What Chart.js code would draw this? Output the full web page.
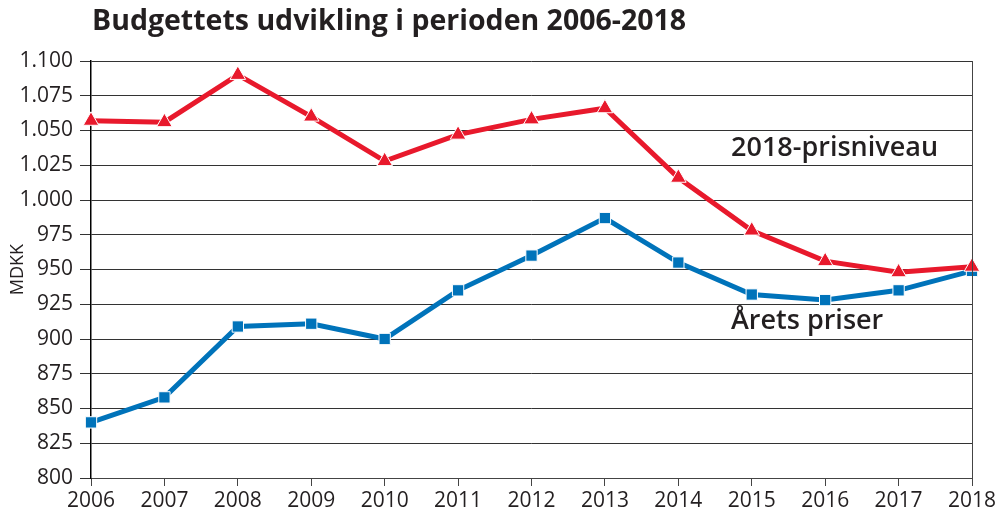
<!DOCTYPE html>
<html>
<head>
<meta charset="utf-8">
<script src="https://cdn.jsdelivr.net/npm/chart.js@4"></script>
<style>
  html, body { margin: 0; padding: 0; background: #fff; }
  #wrap { width: 1002px; height: 513px; }
</style>
</head>
<body>
<div id="wrap"><canvas id="chart"></canvas></div>
<script>
'use strict';

const years = ['2006','2007','2008','2009','2010','2011','2012','2013','2014','2015','2016','2017','2018'];
const prisniveau2018 = [1057, 1056, 1090, 1060, 1028, 1047, 1058, 1066, 1016, 978, 956, 948, 952];
const aretsPriser = [840, 858, 909, 911, 900, 935, 960, 987, 955, 932, 928, 935, 949];
const yTicks = { min: 800, max: 1100, step: 25 };

const titleText = 'Budgettets udvikling i perioden 2006-2018';
const red = '#e8192c';
const blue = '#0073ba';
const ink = '#231f20';
const fontFamily = '"Open Sans", sans-serif';

// Danish thousands separator: 1100 -> 1.100
function fmt(v) {
    if (v >= 1000) return Math.floor(v / 1000) + '.' + String(v % 1000).padStart(3, '0');
    return String(v);
}

const extras = {
    id: 'extras',
    afterDraw(chart) {
        const ctx = chart.ctx;
        const area = chart.chartArea;
        ctx.save();
        // right border
        ctx.strokeStyle = '#444';
        ctx.lineWidth = 1;
        ctx.beginPath();
        ctx.moveTo(Math.round(area.right) + 0.5, area.top);
        ctx.lineTo(Math.round(area.right) + 0.5, area.bottom);
        ctx.stroke();

        // title
        ctx.fillStyle = ink;
        ctx.font = 'bold 28.5px ' + fontFamily;
        ctx.textBaseline = 'middle';
        ctx.textAlign = 'left';
        ctx.fillText(titleText, 92, 22);

        // series labels
        ctx.font = '600 27px ' + fontFamily;
        ctx.fillText('2018-prisniveau', 731, 148);
        ctx.fillText('Årets priser', 731, 321);
        ctx.restore();
    }
};

new Chart(document.getElementById('chart'), {
    type: 'line',
    data: {
        labels: years,
        datasets: [
            {
                label: '2018-prisniveau',
                data: prisniveau2018,
                borderColor: red,
                backgroundColor: red,
                borderWidth: 5,
                pointStyle: 'triangle',
                pointRadius: 9,
                pointBorderColor: '#fff',
                pointBorderWidth: 1,
                pointBackgroundColor: red,
                tension: 0
            },
            {
                label: 'Årets priser',
                data: aretsPriser,
                borderColor: blue,
                backgroundColor: blue,
                borderWidth: 5,
                pointStyle: 'rect',
                pointRadius: 8,
                pointBorderColor: '#fff',
                pointBorderWidth: 1,
                pointBackgroundColor: blue,
                tension: 0
            }
        ]
    },
    options: {
        responsive: true,
        maintainAspectRatio: false,
        animation: false,
        layout: { padding: { top: 61, right: 30, left: 0, bottom: 0 } },
        plugins: {
            legend: { display: false },
            tooltip: { enabled: false },
            title: { display: false }
        },
        scales: {
            x: {
                offset: false,
                afterFit: (scale) => { scale.height = 35; },
                grid: {
                    drawOnChartArea: false,
                    drawTicks: true,
                    tickLength: 8,
                    color: '#444'
                },
                border: { display: true, color: '#444', width: 1 },
                ticks: {
                    color: ink,
                    font: { family: fontFamily, size: 21 },
                    padding: 2,
                    maxRotation: 0,
                    autoSkip: false
                }
            },
            y: {
                min: yTicks.min,
                max: yTicks.max,
                afterFit: (scale) => { scale.width = 91; },
                grid: {
                    color: '#333',
                    lineWidth: 1,
                    tickLength: 11
                },
                border: { display: true, color: '#000', width: 1.5 },
                ticks: {
                    stepSize: yTicks.step,
                    color: ink,
                    font: { family: fontFamily, size: 21 },
                    padding: 7,
                    callback: (v) => fmt(v)
                },
                title: {
                    display: true,
                    text: 'MDKK',
                    color: ink,
                    font: { family: fontFamily, size: 18 },
                    padding: { top: 7, bottom: 2 }
                }
            }
        }
    },
    plugins: [extras]
});
</script>
</body>
</html>
